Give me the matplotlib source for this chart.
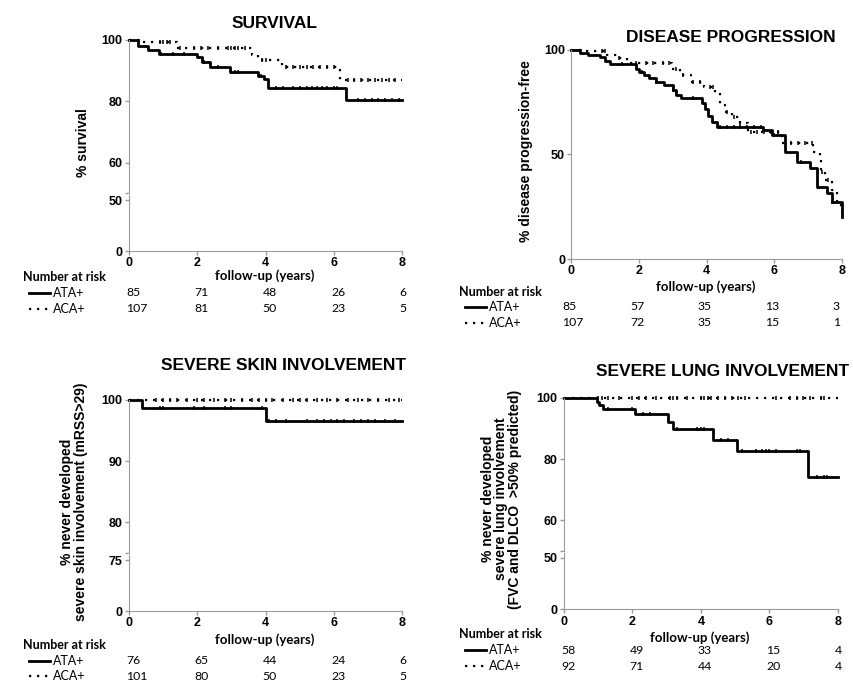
import numpy as np
import matplotlib
matplotlib.use('Agg')
import matplotlib.pyplot as plt
from matplotlib.lines import Line2D
from matplotlib.transforms import blended_transform_factory, offset_copy

# ---- données ----
risk_times = [0, 2, 4, 6, 8]

# SURVIVAL
surv_ata_t = [0, 0.27, 0.57, 0.89, 1.98, 2.15, 2.37, 2.96, 3.79, 3.95, 4.08, 6.34]
surv_ata_v = [100, 98.1, 96.7, 95.4, 94.4, 92.9, 91.1, 89.7, 88.1, 87.3, 84.2, 80.3]
surv_ata_cens = [0.95, 1.3, 1.6, 2.2, 2.6, 3.0, 3.1, 3.2, 3.85, 4.3, 4.5, 4.8, 5.0, 5.2, 5.35,
                 5.5, 5.65, 5.8, 6.0, 6.1, 6.7, 6.9, 7.1, 7.3, 7.5, 7.7, 7.9]
surv_aca_t = [0, 0.3, 1.4, 3.59, 3.78, 4.48, 6.18]
surv_aca_v = [100, 99.3, 97.3, 95.1, 93.5, 91.3, 86.8]
surv_aca_cens = [0.9, 1.0, 1.1, 1.2, 1.5, 1.9, 2.1, 2.3, 2.6, 2.9, 3.0, 3.1, 3.2, 3.4, 3.9, 4.0,
                 4.6, 4.8, 5.0, 5.2, 5.4, 5.6, 5.8, 6.0, 6.4, 6.6, 6.8, 7.0, 7.2, 7.4, 7.6, 7.8]
surv_ata_risk = [85, 71, 48, 26, 6]
surv_aca_risk = [107, 81, 50, 23, 5]

# DISEASE PROGRESSION
prog_ata_t = [0, 0.26, 0.5, 0.85, 1.0, 1.14, 1.9, 2.0, 2.15, 2.3, 2.5, 2.75, 3.0, 3.1, 3.25,
              3.85, 3.95, 4.05, 4.15, 4.3, 5.67, 5.92, 6.31, 6.66, 7.05, 7.25, 7.55, 7.7, 7.99]
prog_ata_v = [100, 98.6, 97.5, 96.4, 94.7, 93.2, 91.0, 89.5, 87.9, 86.3, 84.7, 83.1, 80.7, 78.4, 76.8,
              74.5, 71.5, 68.5, 65.5, 63.2, 61.6, 59.2, 51.3, 46.5, 43.3, 34.5, 31.4, 27.4, 20.0]
prog_ata_cens = [1.5, 2.1, 2.5, 3.0, 3.6, 4.4, 4.6, 4.8, 5.0, 5.2, 5.4, 5.6, 6.0, 6.8, 7.3, 7.7]
prog_aca_t = [0, 0.3, 1.05, 1.35, 1.65, 2.98, 3.22, 3.53, 3.91, 4.26, 4.4, 4.55, 4.74, 4.98,
              5.23, 6.22, 7.14, 7.35, 7.39, 7.5, 7.7, 7.84, 7.98]
prog_aca_v = [100, 99.2, 97.5, 95.9, 93.5, 90.6, 87.9, 84.7, 82.0, 79.2, 73.6, 70.4, 68.0, 64.8,
              60.8, 55.3, 51.3, 47.3, 41.7, 37.7, 33.0, 25.8, 22.6]
prog_aca_cens = [0.9, 1.0, 1.4, 1.9, 2.2, 2.4, 2.7, 2.9, 3.1, 3.3, 3.6, 3.8, 4.1, 4.2, 4.6, 4.8,
                 5.0, 5.3, 5.5, 5.7, 5.9, 6.1, 6.5, 6.7, 6.9, 7.1, 7.4, 7.6]
prog_ata_risk = [85, 57, 35, 13, 3]
prog_aca_risk = [107, 72, 35, 15, 1]

# SEVERE SKIN INVOLVEMENT
skin_ata_t = [0, 0.39, 4.0]
skin_ata_v = [100, 98.7, 96.6]
skin_ata_cens = [0.9, 1.0, 1.9, 2.2, 2.8, 3.0, 3.9, 4.1, 4.3, 4.6, 5.2, 5.5, 5.7, 5.9, 6.1, 6.3,
                 6.6, 6.8, 7.0, 7.2, 7.5, 7.8]
skin_aca_t = [0]
skin_aca_v = [100]
skin_aca_cens = [0.8, 1.0, 1.2, 1.4, 1.7, 2.0, 2.2, 2.5, 2.8, 3.0, 3.3, 3.6, 3.8, 4.0, 4.2, 4.5,
                 4.8, 5.0, 5.2, 5.5, 5.8, 6.1, 6.4, 6.7, 7.0, 7.3, 7.6, 7.9]
skin_ata_risk = [76, 65, 44, 24, 6]
skin_aca_risk = [101, 80, 50, 23, 5]

# SEVERE LUNG INVOLVEMENT
lung_ata_t = [0, 0.96, 1.03, 1.15, 2.08, 3.05, 3.18, 4.36, 5.05, 7.14]
lung_ata_v = [100, 98.7, 97.6, 96.3, 94.6, 92.2, 89.8, 86.2, 82.6, 74.2]
lung_ata_cens = [1.3, 2.0, 2.3, 2.5, 3.3, 3.9, 4.0, 4.1, 4.6, 4.8, 5.2, 5.6, 5.8, 5.9, 6.0, 6.2,
                 6.8, 6.9, 7.4, 7.6, 7.7]
lung_aca_t = [0]
lung_aca_v = [100]
lung_aca_cens = [1.0, 1.1, 1.3, 1.6, 2.0, 2.2, 2.4, 2.7, 3.1, 3.2, 3.3, 3.6, 4.0, 4.1, 4.2, 4.3,
                 4.5, 4.7, 4.9, 5.1, 5.3, 6.2, 6.6, 6.8, 7.0, 7.2, 7.5, 7.6]
lung_ata_risk = [58, 49, 33, 15, 4]
lung_aca_risk = [92, 71, 44, 20, 4]

# ---- mise en page ----
W, H = 854, 683
fig = plt.figure(figsize=(W / 100, H / 100), dpi=100)

AX_FONT = 'Liberation Sans'
TAB_FONT = 'Lato'
GREY = '#9a9a9a'
SOLID = dict(color='black', lw=2.0, linestyle='-')
DOTTED = dict(color='black', lw=1.6, linestyle=(0, (1, 2.6)))


def fx(px):
    return px / W


def fy(py):
    return 1 - py / H


def box(x0, y0, x1, y1):
    return [x0 / W, 1 - y1 / H, (x1 - x0) / W, (y1 - y0) / H]


def style_axis(ax, bottom=True):
    for s in ['top', 'right']:
        ax.spines[s].set_visible(False)
    ax.spines['left'].set_color(GREY)
    ax.spines['bottom'].set_color(GREY)
    if not bottom:
        ax.spines['bottom'].set_visible(False)
        ax.tick_params(axis='x', bottom=False, labelbottom=False)
    ax.tick_params(colors=GREY, length=3, width=1, pad=1.5, labelcolor='black')
    for lab in ax.get_xticklabels() + ax.get_yticklabels():
        lab.set_fontfamily(AX_FONT)
        lab.set_fontweight('bold')
        lab.set_fontsize(9)
    ax.set_xlim(0, 8)
    ax.patch.set_alpha(0)


def km(ax, t, v, style, cens):
    tt = list(t) + [8]
    vv = list(v) + [v[-1]]
    ax.step(tt, vv, where='post', clip_on=False, **style)
    idx = np.searchsorted(t, cens, side='right') - 1
    ax.plot(cens, np.array(v)[idx], ls='none', marker='|', ms=3.5, mew=1.1,
            color='black', clip_on=False)


def risk_table(ax, x_left, y_title, y_rows, ata, aca, shift):
    fig.text(fx(x_left), fy(y_title), 'Number at risk', family=TAB_FONT, weight='bold',
             fontsize=9, ha='left', va='center')
    for y, style, name, vals in [(y_rows[0], SOLID, 'ATA+', ata), (y_rows[1], DOTTED, 'ACA+', aca)]:
        fig.add_artist(Line2D([fx(x_left + 6), fx(x_left + 27)], [fy(y), fy(y)],
                              transform=fig.transFigure, **style))
        fig.text(fx(x_left + 30), fy(y), name, family=TAB_FONT, fontsize=9,
                 ha='left', va='center')
        tr = offset_copy(blended_transform_factory(ax.transData, fig.transFigure),
                         fig=fig, x=shift, y=0, units='dots')
        for t, n in zip(risk_times, vals):
            ax.text(t, fy(y), str(n), transform=tr, family=TAB_FONT, fontsize=8.8,
                    ha='left', va='center')


def broken_panel(x0, x1, y_top, y_mid, y_gap, y_bot, lo, lo_top, up_ticks, lo_ticks):
    up = fig.add_axes(box(x0, y_top, x1, y_mid))
    low = fig.add_axes(box(x0, y_gap, x1, y_bot))
    up.set_ylim(lo, 100)
    up.set_yticks(up_ticks)
    up.set_yticklabels([''] + [str(v) for v in up_ticks[1:]])
    low.set_ylim(0, lo_top)
    low.set_yticks(lo_ticks)
    low.set_xticks(risk_times)
    style_axis(up, bottom=False)
    style_axis(low)
    return up, low


def xlabel(x, y):
    fig.text(fx(x), fy(y), 'follow-up (years)', family=TAB_FONT, weight='bold',
             fontsize=9.5, ha='center', va='center')


def title(x, y, s):
    fig.text(fx(x), fy(y), s, family=AX_FONT, weight='bold', fontsize=12.5,
             ha='center', va='center')


def ylabel(x, y, s):
    fig.text(fx(x), fy(y), s, family=AX_FONT, weight='bold', fontsize=10,
             rotation=90, ha='center', va='center', multialignment='center',
             linespacing=0.95)


# Panel 1 : SURVIVAL
up1, low1 = broken_panel(129, 402.3, 40, 193.3, 195, 251, 50, 55, [50, 60, 80, 100], [0, 50])
km(up1, surv_ata_t, surv_ata_v, SOLID, surv_ata_cens)
km(up1, surv_aca_t, surv_aca_v, DOTTED, surv_aca_cens)
title(275, 24, 'SURVIVAL')
ylabel(83, 143, '% survival')
xlabel(265, 276)
risk_table(low1, 23, 277, (293, 309), surv_ata_risk, surv_aca_risk, -3)

# Panel 2 : DISEASE PROGRESSION
ax2 = fig.add_axes(box(571.3, 49.7, 842, 259))
ax2.set_ylim(0, 100)
ax2.set_yticks([0, 50, 100])
ax2.set_xticks(risk_times)
style_axis(ax2)
km(ax2, prog_ata_t, prog_ata_v, SOLID, prog_ata_cens)
km(ax2, prog_aca_t, prog_aca_v, DOTTED, prog_aca_cens)
title(730.5, 37, 'DISEASE PROGRESSION')
ylabel(526, 151, '% disease progression-free')
xlabel(706, 287)
risk_table(ax2, 459, 292, (307, 323), prog_ata_risk, prog_aca_risk, -9)

# Panel 3 : SEVERE SKIN INVOLVEMENT
up3, low3 = broken_panel(129, 402.3, 399.7, 553, 555, 611, 75, 82.4, [75, 80, 90, 100], [0, 75])
km(up3, skin_ata_t, skin_ata_v, SOLID, skin_ata_cens)
km(up3, skin_aca_t, skin_aca_v, DOTTED, skin_aca_cens)
title(283.5, 366, 'SEVERE SKIN INVOLVEMENT')
ylabel(74, 502, '% never developed\nsevere skin involvement (mRSS>29)')
xlabel(265, 640)
risk_table(low3, 23, 645, (661, 676), skin_ata_risk, skin_aca_risk, -3)

# Panel 4 : SEVERE LUNG INVOLVEMENT
up4, low4 = broken_panel(564, 837.7, 397.7, 551, 552.7, 609.3, 50, 55, [50, 60, 80, 100], [0, 50])
km(up4, lung_ata_t, lung_ata_v, SOLID, lung_ata_cens)
km(up4, lung_aca_t, lung_aca_v, DOTTED, lung_aca_cens)
title(723, 371, 'SEVERE LUNG INVOLVEMENT')
ylabel(501.5, 499, '% never developed\nsevere lung involvement\n(FVC and DLCO  >50% predicted)')
xlabel(700, 638)
risk_table(low4, 459, 634, (650, 666), lung_ata_risk, lung_aca_risk, -3)

plt.savefig('out.png', dpi=100)
